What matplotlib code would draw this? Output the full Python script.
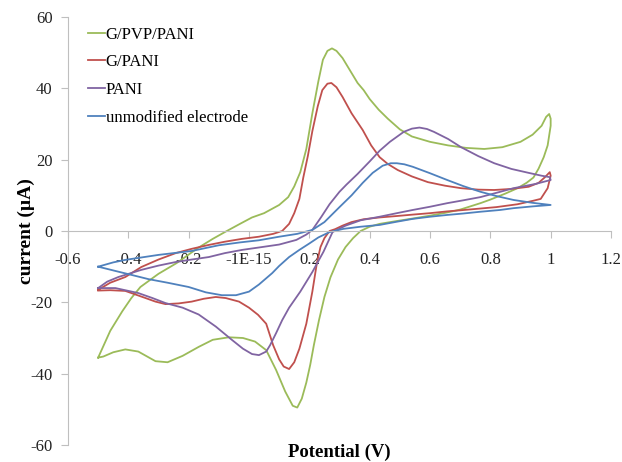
import matplotlib
matplotlib.use('Agg')
import matplotlib.pyplot as plt

# cyclic voltammograms, potential (V) vs current (uA)
# each loop: forward scan -0.5 -> 1.0, then back to -0.5
gpvp_v = [-0.50, -0.46, -0.42, -0.39, -0.36, -0.30, -0.24, -0.17, -0.12, -0.08,
          -0.03, 0.01, 0.05, 0.10, 0.13, 0.15, 0.17, 0.19, 0.21, 0.23,
          0.245, 0.26, 0.275, 0.29, 0.31, 0.335, 0.36, 0.38, 0.40, 0.43,
          0.46, 0.50, 0.54, 0.60, 0.66, 0.72, 0.78, 0.84, 0.90, 0.94,
          0.97, 0.985, 0.995, 1.0,
          1.0, 0.99, 0.977, 0.96, 0.943, 0.92, 0.89, 0.85, 0.80, 0.767,
          0.70, 0.657, 0.60, 0.543, 0.49, 0.433, 0.40, 0.37, 0.345, 0.32,
          0.295, 0.27, 0.25, 0.232, 0.215, 0.203, 0.19, 0.175, 0.16, 0.145,
          0.12, 0.09, 0.057, 0.02, -0.02, -0.067, -0.12, -0.167, -0.22, -0.27,
          -0.31, -0.367, -0.41, -0.45, -0.483, -0.50]
gpvp_i = [-35.5, -28.0, -22.5, -18.8, -15.7, -12.0, -9.0, -4.8, -2.2, -0.3,
          2.0, 3.8, 5.0, 7.3, 9.5, 12.5, 16.5, 23.0, 33.0, 42.0,
          48.0, 50.5, 51.2, 50.5, 48.5, 45.0, 41.5, 39.5, 37.0, 34.0,
          31.5, 28.5, 26.5, 25.0, 24.0, 23.3, 23.0, 23.5, 25.0, 27.0,
          29.5, 32.0, 32.8, 31.5,
          29.5, 24.0, 20.7, 17.5, 15.0, 13.5, 12.0, 10.5, 8.8, 7.8,
          6.0, 5.2, 4.3, 3.5, 2.8, 2.0, 1.2, 0.0, -2.0, -4.5,
          -8.0, -13.0, -18.5, -25.0, -32.0, -37.5, -42.5, -47.0, -49.5, -49.0,
          -45.0, -39.0, -33.4, -31.0, -30.0, -29.8, -30.5, -32.5, -35.0, -36.8,
          -36.5, -33.8, -33.2, -34.0, -35.2, -35.5]

gpani_v = [-0.50, -0.46, -0.41, -0.357, -0.30, -0.243, -0.19, -0.133, -0.08, -0.023,
           0.033, 0.08, 0.11, 0.133, 0.15, 0.167, 0.18, 0.195, 0.21, 0.228,
           0.243, 0.26, 0.273, 0.29, 0.31, 0.34, 0.377, 0.405, 0.433, 0.46,
           0.493, 0.54, 0.593, 0.65, 0.703, 0.76, 0.813, 0.87, 0.927, 0.96,
           0.98, 0.997,
           1.0, 0.99, 0.967, 0.943, 0.89, 0.82, 0.767, 0.70, 0.657, 0.60,
           0.543, 0.49, 0.433, 0.38, 0.34, 0.31, 0.285, 0.267, 0.25, 0.237,
           0.225, 0.21, 0.19, 0.167, 0.15, 0.133, 0.115, 0.10, 0.08, 0.057,
           0.03, 0.0, -0.033, -0.077, -0.11, -0.15, -0.19, -0.233, -0.277, -0.31,
           -0.343, -0.41, -0.46, -0.50]
gpani_i = [-16.5, -14.5, -12.9, -10.1, -8.0, -6.2, -5.0, -3.9, -3.0, -2.2,
           -1.6, -0.8, 0.0, 2.0, 5.0, 9.0, 15.0, 21.0, 28.0, 35.0,
           39.5, 41.3, 41.5, 40.3, 37.6, 33.0, 28.3, 24.0, 20.7, 18.8,
           17.1, 15.3, 13.7, 12.7, 12.0, 11.6, 11.5, 11.8, 12.4, 13.5,
           15.0, 16.5,
           15.5, 12.0, 9.0, 8.5, 7.5, 6.7, 6.3, 5.8, 5.5, 5.0,
           4.6, 4.2, 3.8, 3.3, 2.5, 1.5, 0.5, 0.0, -2.0, -4.5,
           -9.0, -17.0, -26.0, -33.0, -36.8, -38.7, -38.0, -36.0, -32.0, -26.0,
           -23.5, -21.5, -19.8, -18.8, -18.5, -19.0, -19.8, -20.3, -20.5, -19.8,
           -18.8, -16.8, -16.6, -16.7]

pani_v = [-0.50, -0.47, -0.433, -0.357, -0.30, -0.243, -0.19, -0.133, -0.08, -0.023,
          0.043, 0.10, 0.157, 0.19, 0.21, 0.24, 0.267, 0.30, 0.323, 0.36,
          0.40, 0.433, 0.467, 0.513, 0.54, 0.565, 0.59, 0.613, 0.66, 0.703,
          0.76, 0.813, 0.87, 0.927, 0.97, 0.997,
          1.0, 0.95, 0.877, 0.82, 0.767, 0.71, 0.657, 0.60, 0.543, 0.49,
          0.433, 0.37, 0.32, 0.277, 0.247, 0.21, 0.17, 0.133, 0.11, 0.09,
          0.07, 0.057, 0.033, 0.01, -0.02, -0.057, -0.11, -0.167, -0.22, -0.277,
          -0.32, -0.367, -0.443, -0.50]
pani_i = [-16.0, -14.2, -12.9, -10.9, -9.7, -8.7, -8.0, -7.3, -6.2, -5.3,
          -4.5, -3.8, -2.5, -1.0, 0.3, 4.0, 7.5, 11.0, 13.0, 16.0,
          19.5, 22.5, 25.0, 27.8, 28.7, 29.0, 28.6, 27.8, 25.8, 23.5,
          21.0, 19.0, 17.4, 16.3, 15.5, 15.1,
          14.3, 13.2, 12.0, 10.7, 9.5, 8.6, 7.8, 6.8, 5.9, 5.0,
          4.0, 3.0, 1.5, -0.3, -5.8, -11.5, -17.0, -21.5, -25.0, -28.6,
          -32.0, -33.8, -34.8, -34.5, -33.0, -30.5, -26.8, -23.4, -21.5, -20.2,
          -18.8, -17.4, -16.0, -16.0]

bare_v = [-0.50, -0.45, -0.41, -0.30, -0.19, -0.10, -0.03, 0.033, 0.10, 0.16,
          0.21, 0.25, 0.30, 0.34, 0.377, 0.41, 0.443, 0.47, 0.49, 0.515,
          0.543, 0.60, 0.657, 0.71, 0.767, 0.82, 0.877, 0.94, 1.0,
          0.94, 0.877, 0.833, 0.767, 0.71, 0.657, 0.60, 0.543, 0.49, 0.433,
          0.37, 0.313, 0.267, 0.23, 0.20, 0.167, 0.133, 0.10, 0.077, 0.033,
          0.0, -0.043, -0.09, -0.143, -0.20, -0.27, -0.333, -0.39, -0.443, -0.50]
bare_i = [-10.0, -8.8, -8.1, -6.7, -5.6, -4.0, -3.2, -2.6, -1.6, -0.8,
          0.3, 2.5, 6.7, 10.0, 13.5, 16.3, 18.3, 19.0, 19.0, 18.7,
          18.0, 16.2, 14.3, 12.6, 11.0, 9.8, 8.7, 7.9, 7.3,
          6.9, 6.4, 5.9, 5.4, 4.9, 4.5, 4.0, 3.4, 2.6, 1.7,
          1.2, 0.6, -0.3, -1.8, -3.5, -5.3, -7.3, -9.8, -11.8, -15.0,
          -17.0, -18.0, -18.0, -17.2, -15.7, -14.5, -13.5, -12.3, -11.2, -10.0]

x_ticks = [-0.6, -0.4, -0.2, 0.0, 0.2, 0.4, 0.6, 0.8, 1.0, 1.2]
x_tick_labels = ['-0.6', '-0.4', '-0.2', '-1E-15', '0.2', '0.4', '0.6', '0.8', '1', '1.2']
y_ticks = [-60, -40, -20, 0, 20, 40, 60]

plt.rcParams['font.family'] = ['Liberation Serif', 'DejaVu Serif']
plt.rcParams['axes.unicode_minus'] = False

fig = plt.figure(figsize=(6.22, 4.62), dpi=100)
ax = fig.add_axes([68 / 622, 1 - 445 / 462, (611 - 68) / 622, (445 - 17) / 462])

ax.plot(gpvp_v, gpvp_i, color='#9BBB59', lw=1.3, label='G/PVP/PANI')
ax.plot(gpani_v, gpani_i, color='#C0504D', lw=1.3, label='G/PANI')
ax.plot(pani_v, pani_i, color='#8064A2', lw=1.3, label='PANI')
ax.plot(bare_v, bare_i, color='#4F81BD', lw=1.3, label='unmodified electrode')

ax.set_xlim(-0.6, 1.2)
ax.set_ylim(-60, 60)

for s in ['top', 'right']:
    ax.spines[s].set_visible(False)
ax.spines['bottom'].set_position(('data', 0))
ax.spines['bottom'].set_color('#BFBFBF')
ax.spines['left'].set_color('#BFBFBF')

ax.set_xticks(x_ticks)
ax.set_xticklabels(x_tick_labels)
ax.set_yticks(y_ticks)
ax.tick_params(axis='x', direction='out', length=5, color='#BFBFBF', pad=10, labelsize=12, labelcolor='#222222')
ax.tick_params(axis='y', direction='out', length=5, color='#BFBFBF', pad=6, labelsize=12, labelcolor='#222222')

ax.set_ylabel('current (µA)', fontsize=14, fontweight='bold', labelpad=-3)
ax.text(0.5, -0.017, 'Potential (V)', transform=ax.transAxes, ha='center', va='center',
        fontsize=13.5, fontweight='bold')

ax.legend(loc='upper left', bbox_to_anchor=(0.025, 0.993), frameon=False, fontsize=12,
          handlelength=1.0, handletextpad=0.05, labelspacing=0.7, borderaxespad=0.0)

fig.savefig('out.png', dpi=100)
